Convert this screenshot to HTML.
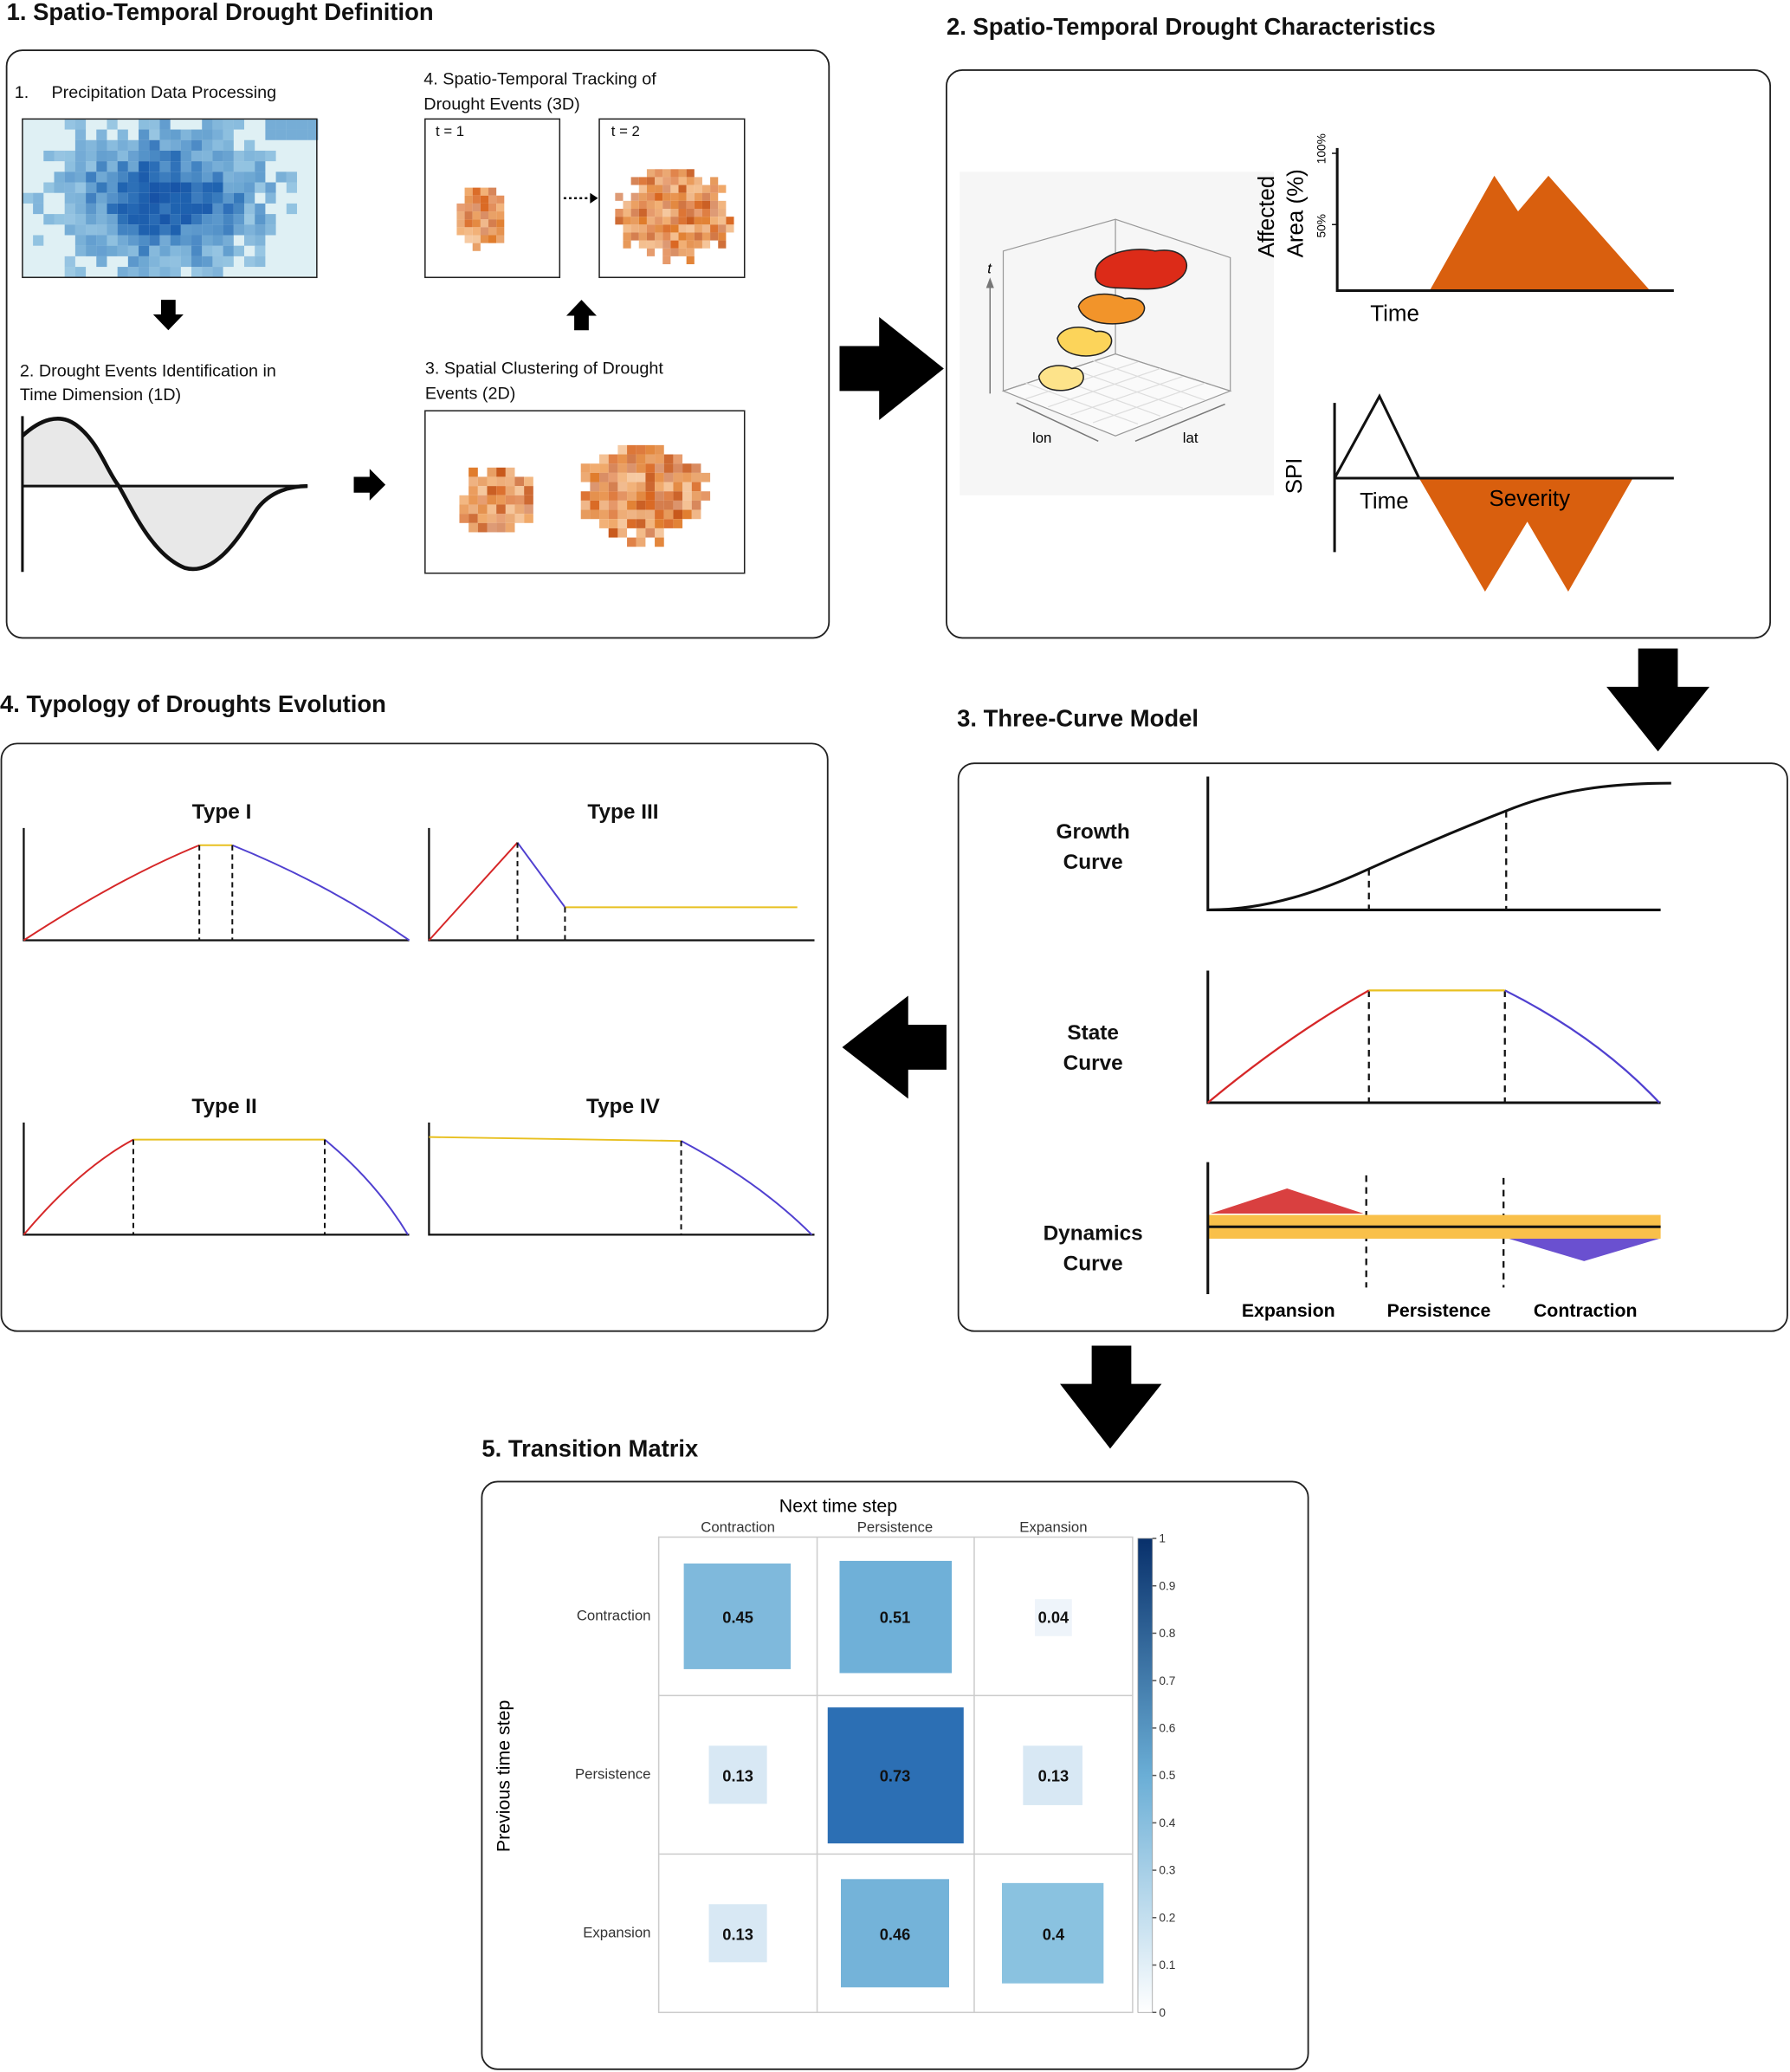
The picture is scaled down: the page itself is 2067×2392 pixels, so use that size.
<!DOCTYPE html>
<html><head><meta charset="utf-8">
<style>
html,body{margin:0;padding:0;background:#fff;}
svg{display:block;}
text{font-family:"Liberation Sans",sans-serif;}
.t{font-weight:bold;font-size:18px;fill:#111;}
.s{font-size:13px;fill:#111;}
.b{font-weight:bold;font-size:16px;fill:#111;}
</style></head>
<body>
<svg id="s" width="2067" height="2392" viewBox="0 0 1356 1569" xmlns="http://www.w3.org/2000/svg">
<defs>
<linearGradient id="cb" x1="0" y1="1" x2="0" y2="0">
<stop offset="0" stop-color="#ffffff"/><stop offset="0.5" stop-color="#6aaed6"/><stop offset="1" stop-color="#08306b"/>
</linearGradient>
</defs>
<g fill="none" stroke="#222" stroke-width="1.2">
<rect x="5" y="38" width="623" height="445" rx="12"/>
<rect x="717" y="53" width="624" height="430" rx="12"/>
<rect x="1" y="563" width="626" height="445" rx="12"/>
<rect x="726" y="578" width="628" height="430" rx="12"/>
<rect x="365" y="1122" width="626" height="445" rx="12"/>
</g>
<text class="t" x="5" y="15">1. Spatio-Temporal Drought Definition</text>
<text class="t" x="717" y="26">2. Spatio-Temporal Drought Characteristics</text>
<text class="t" x="0" y="539">4. Typology of Droughts Evolution</text>
<text class="t" x="725" y="550">3. Three-Curve Model</text>
<text class="t" x="365" y="1103">5. Transition Matrix</text>
<!-- big arrows -->
<polygon points="636,262 666,262 666,240 715,279 666,318 666,296 636,296" fill="#000"/>
<polygon points="1241,491 1271,491 1271,520 1295,520 1256,569 1217,520 1241,520" fill="#000"/>
<polygon points="717,776 688,776 688,754 638,793 688,832 688,810 717,810" fill="#000"/>
<polygon points="827,1019 857,1019 857,1048 880,1048 841,1097 803,1048 827,1048" fill="#000"/>
<!-- box1 -->
<text class="s" x="11" y="74">1.</text><text class="s" x="39" y="74">Precipitation Data Processing</text>
<rect x="17" y="90" width="223" height="120" fill="#dff0f4"/>
<g id="heat"></g>
<rect x="17" y="90" width="223" height="120" fill="none" stroke="#222"/>
<polygon points="122,227 133,227 133,238 139,238 127.5,250 116,238 122,238" fill="#000"/>
<text class="s" x="15" y="285">2. Drought Events Identification in</text>
<text class="s" x="15" y="303">Time Dimension (1D)</text>
<path d="M17,368 L17,330 C30,318 45,312 58,322 C75,335 80,355 90,368 Z" fill="#e8e8e8"/>
<path d="M90,368 C100,385 115,420 140,430 C165,437 185,400 195,385 C205,372 220,368 233,368 Z" fill="#e8e8e8"/>
<line x1="17" y1="368" x2="233" y2="368" stroke="#111" stroke-width="2"/>
<line x1="17" y1="315" x2="17" y2="433" stroke="#111" stroke-width="2"/>
<path d="M17,330 C30,318 45,312 58,322 C75,335 80,355 90,368 C100,385 115,420 140,430 C165,437 185,400 195,385 C205,372 220,368 233,368" fill="none" stroke="#111" stroke-width="3"/>
<polygon points="268,361 280,361 280,355 292,367 280,379 280,373 268,373" fill="#000"/>
<text class="s" x="322" y="283">3. Spatial Clustering of Drought</text>
<text class="s" x="322" y="302">Events (2D)</text>
<rect x="322" y="311" width="242" height="123" fill="#fff" stroke="#222"/>
<g id="b2d"></g>
<polygon points="435,250 446,250 446,239 452,239 440.5,227 429,239 435,239" fill="#000"/>
<text class="s" x="321" y="64">4. Spatio-Temporal Tracking of</text>
<text class="s" x="321" y="83">Drought Events (3D)</text>
<rect x="322" y="90" width="102" height="120" fill="#fff" stroke="#222"/>
<rect x="454" y="90" width="110" height="120" fill="#fff" stroke="#222"/>
<text class="s" x="330" y="103" style="font-size:11px">t = 1</text>
<text class="s" x="463" y="103" style="font-size:11px">t = 2</text>
<g id="b3d"></g>
<line x1="427" y1="150" x2="448" y2="150" stroke="#000" stroke-dasharray="2,2" stroke-width="1.5"/>
<polygon points="447,146 453,150 447,154" fill="#000"/>
<!-- box2 3D -->
<rect x="727" y="130" width="238" height="245" fill="#f6f6f6"/>
<g stroke="#999" fill="none" stroke-width="0.8">
<polygon points="760,190 845,166 932,195 932,296 845,268 760,296"/>
<line x1="845" y1="166" x2="845" y2="268"/>
<polygon points="760,296 845,268 932,296 845,330" fill="#fafafa"/>
<path d="M777,290 L862,321 M794,284 L879,315 M811,279 L896,309 M828,273 L913,303 M777,302 L862,274 M794,308 L879,279 M811,314 L896,285 M828,320 L913,290" stroke="#ddd"/>
</g>
<path d="M750,298 V215" stroke="#777"/><polygon points="747,218 750,210 753,218" fill="#777"/>
<text x="748" y="207" style="font-size:11px;font-style:italic">t</text>
<path d="M770,305 L832,334" stroke="#777"/><text x="782" y="335" style="font-size:11px">lon</text>
<path d="M860,334 L928,306" stroke="#777"/><text x="896" y="335" style="font-size:11px">lat</text>
<path d="M787,285 C790,276 805,275 812,279 C822,277 824,290 815,293 C805,298 788,296 787,285Z" fill="#fde38a" stroke="#222"/>
<path d="M801,256 C805,246 822,246 830,251 C844,249 846,262 835,267 C825,272 803,270 801,256Z" fill="#fcd45a" stroke="#222"/>
<path d="M817,232 C820,222 840,220 852,226 C868,224 872,236 860,242 C846,248 820,246 817,232Z" fill="#f2942a" stroke="#222"/>
<path d="M830,205 C832,192 858,186 875,190 C900,186 905,204 892,212 C880,222 860,218 848,218 C835,218 828,214 830,205Z" fill="#dc2b18" stroke="#222"/>
<!-- affected area -->
<text x="965" y="195" transform="rotate(-90 965 195)" style="font-size:17px">Affected</text>
<text x="987" y="195" transform="rotate(-90 987 195)" style="font-size:17px">Area (%)</text>
<text x="1004" y="124" transform="rotate(-90 1004 124)" style="font-size:9px">100%</text>
<text x="1004" y="180" transform="rotate(-90 1004 180)" style="font-size:9px">50%</text>
<polygon points="1083,220 1132,133 1150,160 1173,133 1250,220" fill="#d95f0e"/>
<path d="M1013,112 V220 H1268" fill="none" stroke="#111" stroke-width="2"/>
<path d="M1009,116 H1013 M1009,170 H1013" stroke="#111"/>
<text x="1038" y="243" style="font-size:17px">Time</text>
<polygon points="1075,362 1125,448 1157,395 1188,448 1237,362" fill="#d95f0e"/>
<path d="M1011,305 V418 M1011,362 H1268" fill="none" stroke="#111" stroke-width="2"/>
<path d="M1011,362 L1045,300 L1075,362" fill="none" stroke="#111" stroke-width="2"/>
<text x="986" y="374" transform="rotate(-90 986 374)" style="font-size:17px">SPI</text>
<text x="1030" y="385" style="font-size:17px">Time</text>
<text x="1128" y="383" style="font-size:17px">Severity</text>
<!-- box3 -->
<g text-anchor="middle">
<text class="b" x="828" y="635">Growth</text><text class="b" x="828" y="658">Curve</text>
<text class="b" x="828" y="787">State</text><text class="b" x="828" y="810">Curve</text>
<text class="b" x="828" y="939">Dynamics</text><text class="b" x="828" y="962">Curve</text>
<text x="976" y="997" style="font-size:14px;font-weight:bold">Expansion</text>
<text x="1090" y="997" style="font-size:14px;font-weight:bold">Persistence</text>
<text x="1201" y="997" style="font-size:14px;font-weight:bold">Contraction</text>
</g>
<path d="M915,588 V689 H1258" fill="none" stroke="#111" stroke-width="2"/>
<path d="M915,689 C960,689 1000,675 1037,658 C1070,643 1105,628 1141,614 C1180,598 1220,593 1266,593" fill="none" stroke="#111" stroke-width="2"/>
<g stroke="#111" stroke-width="1.5" stroke-dasharray="5,4">
<line x1="1037" y1="658" x2="1037" y2="689"/><line x1="1141" y1="614" x2="1141" y2="689"/>
<line x1="1037" y1="750" x2="1037" y2="835"/><line x1="1140" y1="750" x2="1140" y2="835"/>
<line x1="1035" y1="890" x2="1035" y2="975"/><line x1="1139" y1="892" x2="1139" y2="975"/>
</g>
<path d="M915,735 V835 H1258" fill="none" stroke="#111" stroke-width="2"/>
<path d="M915,835 Q975,785 1037,750" fill="none" stroke="#d62728" stroke-width="1.5"/>
<path d="M1037,750 H1140" stroke="#e8c020" stroke-width="1.5"/>
<path d="M1140,750 Q1210,785 1257,835" fill="none" stroke="#5040d0" stroke-width="1.5"/>
<rect x="915" y="920" width="343" height="18" fill="#f9c04a"/>
<polygon points="917,919 975,900 1033,919" fill="#d94040"/>
<polygon points="1143,938 1200,955 1257,938" fill="#6a50d0"/>
<path d="M915,880 V980 M915,929 H1258" fill="none" stroke="#111" stroke-width="2"/>
<!-- box4 -->
<g text-anchor="middle" class="b"><text class="b" x="168" y="620">Type I</text><text class="b" x="472" y="620">Type III</text><text class="b" x="170" y="843">Type II</text><text class="b" x="472" y="843">Type IV</text></g>
<g fill="none" stroke="#111" stroke-width="1.5">
<path d="M18,627 V712 H310"/><path d="M325,627 V712 H617"/><path d="M18,850 V935 H310"/><path d="M325,850 V935 H617"/>
</g>
<g fill="none" stroke-width="1.3">
<path d="M18,712 Q90,665 151,640" stroke="#d62728"/><path d="M151,640 H176" stroke="#e8c020"/><path d="M176,640 Q250,670 310,712" stroke="#5040d0"/>
<path d="M325,712 L392,638" stroke="#d62728"/><path d="M392,638 L428,687" stroke="#5040d0"/><path d="M428,687 H604" stroke="#e8c020"/>
<path d="M18,935 Q60,885 101,863" stroke="#d62728"/><path d="M101,863 H246" stroke="#e8c020"/><path d="M246,863 Q285,895 309,935" stroke="#5040d0"/>
<path d="M325,861 L516,864" stroke="#e8c020"/><path d="M516,864 Q575,895 615,935" stroke="#5040d0"/>
</g>
<g stroke="#111" stroke-width="1.3" stroke-dasharray="4,3">
<line x1="151" y1="640" x2="151" y2="712"/><line x1="176" y1="640" x2="176" y2="712"/>
<line x1="392" y1="638" x2="392" y2="712"/><line x1="428" y1="687" x2="428" y2="712"/>
<line x1="101" y1="863" x2="101" y2="935"/><line x1="246" y1="863" x2="246" y2="935"/>
<line x1="516" y1="864" x2="516" y2="935"/>
</g>
<!-- box5 -->
<text x="635" y="1145" text-anchor="middle" style="font-size:14px">Next time step</text>
<g style="font-size:11px" text-anchor="middle" fill="#333">
<text x="559" y="1160">Contraction</text><text x="678" y="1160">Persistence</text><text x="798" y="1160">Expansion</text>
</g>
<g style="font-size:11px" text-anchor="end" fill="#333">
<text x="493" y="1227">Contraction</text><text x="493" y="1347">Persistence</text><text x="493" y="1467">Expansion</text>
</g>
<text x="386" y="1345" text-anchor="middle" transform="rotate(-90 386 1345)" style="font-size:14px">Previous time step</text>
<rect x="518" y="1184" width="81" height="80" fill="#7fb9dc"/>
<rect x="636" y="1182" width="85" height="85" fill="#6fb0d8"/>
<rect x="784" y="1211" width="28" height="28" fill="#eef4fa"/>
<rect x="537" y="1322" width="44" height="44" fill="#d8e8f4"/>
<rect x="627" y="1293" width="103" height="103" fill="#2c6fb4"/>
<rect x="775" y="1322" width="45" height="45" fill="#d8e8f4"/>
<rect x="537" y="1442" width="44" height="44" fill="#d8e8f4"/>
<rect x="637" y="1423" width="82" height="82" fill="#74b3d9"/>
<rect x="759" y="1426" width="77" height="76" fill="#8ac2e0"/>
<g stroke="#ccc" fill="none">
<rect x="499" y="1164" width="359" height="360"/>
<path d="M619,1164 V1524 M738,1164 V1524 M499,1284 H858 M499,1404 H858"/>
</g>
<g style="font-size:12px;font-weight:bold" text-anchor="middle" fill="#111">
<text x="559" y="1229">0.45</text><text x="678" y="1229">0.51</text><text x="798" y="1229">0.04</text>
<text x="559" y="1349">0.13</text><text x="678" y="1349">0.73</text><text x="798" y="1349">0.13</text>
<text x="559" y="1469">0.13</text><text x="678" y="1469">0.46</text><text x="798" y="1469">0.4</text>
</g>
<rect x="862" y="1165" width="11" height="359" fill="url(#cb)" stroke="#999" stroke-width="0.5"/>
<g id="cbt" style="font-size:9px" fill="#333"></g>
</svg>
<script>
var NS="http://www.w3.org/2000/svg";
function r(g,x,y,w,h,f,o){var e=document.createElementNS(NS,"rect");e.setAttribute("x",x);e.setAttribute("y",y);e.setAttribute("width",w);e.setAttribute("height",h);e.setAttribute("fill",f);if(o!=null)e.setAttribute("fill-opacity",o);g.appendChild(e);}
var seed=7;function rnd(){seed=(seed*9301+49297)%233280;return seed/233280;}
var h=document.getElementById("heat");
for(var i=0;i<28;i++)for(var j=0;j<15;j++){var x=17+i*8,y=90+j*8;var dx=(i-13)/10,dy=(j-7)/7;var d=Math.sqrt(dx*dx+dy*dy);var v=1-d*0.7+rnd()*0.4-0.2;if(i>22&&j<2)v=0.4;if(v>0.2){var L=Math.round(180-v*110);r(h,x,y,8,8,"rgb("+Math.round(L*0.35)+","+Math.round(L*0.65+40)+","+Math.round(L*0.4+140)+")",Math.min(1,v+0.2));}}
function blob(g,cx,cy,rx,ry,s){for(var i=-rx;i<rx;i+=s)for(var j=-ry;j<ry;j+=s){var d=(i*i)/(rx*rx)+(j*j)/(ry*ry);if(d+rnd()*0.5<1.05){var c=["#e07b2a","#e8914a","#d9661f","#f0a868","#c8581a"][Math.floor(rnd()*5)];r(g,cx+i,cy+j,s,s,c,0.6+rnd()*0.4);}}}
var b2=document.getElementById("b2d");blob(b2,373,375,32,28,7);blob(b2,485,370,52,40,7);
var b3=document.getElementById("b3d");blob(b3,362,162,22,26,6);blob(b3,508,160,48,38,6);
var t=document.getElementById("cbt");
for(var k=0;k<=10;k++){var y=1524-k*35.9;var e=document.createElementNS(NS,"text");e.setAttribute("x",878);e.setAttribute("y",y+3);e.textContent=k==0?"0":(k==10?"1":(k/10).toString());t.appendChild(e);var l=document.createElementNS(NS,"line");l.setAttribute("x1",873);l.setAttribute("x2",876);l.setAttribute("y1",y);l.setAttribute("y2",y);l.setAttribute("stroke","#555");t.appendChild(l);}
</script>
</body></html>
